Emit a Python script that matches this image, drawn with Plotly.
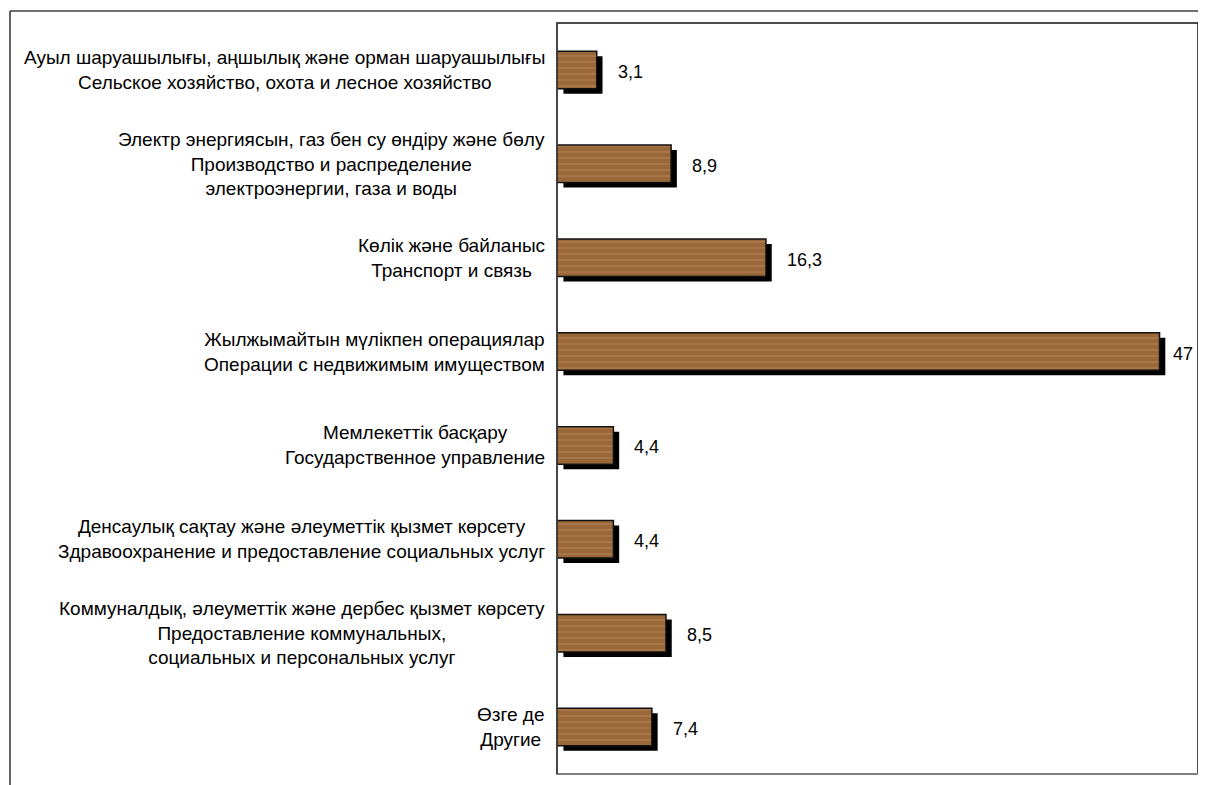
import plotly.graph_objects as go

# categories (kazakh line + russian lines), values in %
labels = [
    "Ауыл шаруашылығы, аңшылық және орман шаруашылығы<br>Сельское хозяйство, охота и лесное хозяйство",
    "Электр энергиясын, газ бен су өндіру және бөлу<br>Производство и распределение<br>электроэнергии, газа и воды",
    "Көлік және байланыс<br>Транспорт и связь",
    "Жылжымайтын мүлікпен операциялар<br>Операции с недвижимым имуществом",
    "Мемлекеттік басқару<br>Государственное управление",
    "Денсаулық сақтау және әлеуметтік қызмет көрсету<br>Здравоохранение и предоставление социальных услуг",
    "Коммуналдық, әлеуметтік және дербес қызмет көрсету<br>Предоставление коммунальных,<br>социальных и персональных услуг",
    "Өзге де<br>Другие",
]
values = [3.1, 8.9, 16.3, 47, 4.4, 4.4, 8.5, 7.4]
value_text = [("%g" % v).replace(".", ",") for v in values]

# page body has an 8px margin, so the figure starts at (8, 8)
OFF = 8
W, H = 1206 - OFF, 785 - OFF
L, R, T, B = 557 - OFF, 1198 - OFF, 23 - OFF, 774 - OFF   # plot area in px
XMAX = 50
px_per_unit = (R - L) / XMAX
px_per_cat = (B - T) / len(labels)

def px_x(p):
    return (p - OFF - L) / (R - L)

def px_y(p):
    return (B - (p - OFF)) / (B - T)

font = "Arial, Liberation Sans, sans-serif"
idx = list(range(len(labels)))

fig = go.Figure()

# shadow bars
fig.add_trace(go.Bar(
    y=idx, x=[v + 0.45 - 0.5 for v in values], base=0.5, orientation="h",
    width=0.4, offset=-0.2 + 5 / px_per_cat,
    marker=dict(color="black", line=dict(width=0)),
    hoverinfo="skip", showlegend=False,
))

# wooden bars
fig.add_trace(go.Bar(
    y=idx, x=values, orientation="h", width=0.4, offset=-0.2,
    marker=dict(
        color="#9a6739",
        line=dict(color="#111", width=1.5),
        pattern=dict(shape="-", bgcolor="#9a6739", fgcolor="#c49a6c",
                     fgopacity=0.35, size=6, solidity=0.3),
    ),
    showlegend=False,
))

annotations = []
for i, (lab, v, t) in enumerate(zip(labels, values, value_text)):
    annotations.append(dict(
        x=0, xref="paper", y=i, yref="y", text=lab, showarrow=False,
        xanchor="right", yanchor="middle", align="center", xshift=-10,
        font=dict(family=font, size=19, color="black"),
    ))
    shift = min(19, (XMAX - v) * px_per_unit - 27)
    annotations.append(dict(
        x=v, y=i, text=t, showarrow=False, xanchor="left", yanchor="middle",
        xshift=shift, yshift=-2,
        font=dict(family=font, size=18, color="black"),
    ))

shapes = [
    # outer chart border (top and left)
    dict(type="line", xref="paper", yref="paper", x0=px_x(10), x1=px_x(1210),
         y0=px_y(11), y1=px_y(11), line=dict(color="#707070", width=2)),
    dict(type="line", xref="paper", yref="paper", x0=px_x(10), x1=px_x(10),
         y0=px_y(11), y1=px_y(790), line=dict(color="#333", width=1.5)),
    # plot area frame
    dict(type="rect", xref="paper", yref="paper", x0=0, x1=1, y0=0, y1=1,
         line=dict(color="#111", width=1.5)),
    dict(type="line", xref="paper", yref="paper", x0=0, x1=1, y0=0, y1=0,
         line=dict(color="#808080", width=2)),
    dict(type="line", xref="paper", yref="paper", x0=0, x1=0, y0=0, y1=1,
         line=dict(color="#444", width=1.5)),
]

fig.update_layout(
    width=W, height=H,
    margin=dict(l=L, r=W - R, t=T, b=H - B, pad=0),
    paper_bgcolor="white", plot_bgcolor="white",
    barmode="overlay",
    xaxis=dict(range=[0, XMAX], showgrid=False, zeroline=False,
               showticklabels=False, ticks=""),
    yaxis=dict(range=[len(labels) - 0.5, -0.5], showgrid=False, zeroline=False,
               showticklabels=False, ticks=""),
    annotations=annotations,
    shapes=shapes,
)

fig.write_html("out.html")
